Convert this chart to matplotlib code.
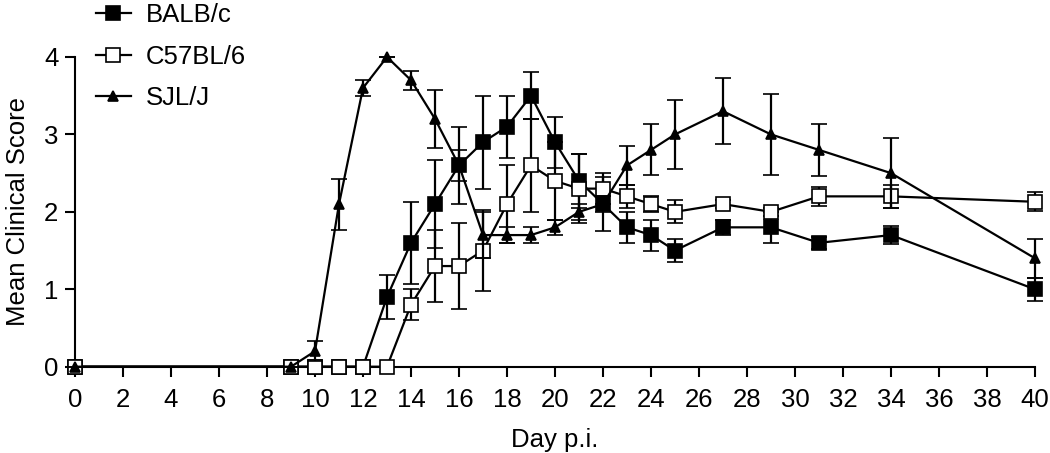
import matplotlib
matplotlib.use("Agg")
import matplotlib.pyplot as plt
from matplotlib.lines import Line2D

plt.rcParams["font.family"] = ["Liberation Sans", "DejaVu Sans"]

days = [0, 9, 10, 11, 12, 13, 14, 15, 16, 17, 18, 19, 20, 21, 22, 23, 24, 25, 27, 29, 31, 34, 40]

balb = [0, 0, 0, 0, 0, 0.9, 1.6, 2.1, 2.6, 2.9, 3.1, 3.5, 2.9, 2.4, 2.1, 1.8, 1.7, 1.5, 1.8, 1.8, 1.6, 1.7, 1.0]
balb_err = [0, 0, 0, 0, 0, 0.28, 0.53, 0.57, 0.5, 0.6, 0.4, 0.3, 0.33, 0.35, 0.35, 0.2, 0.2, 0.15, 0.1, 0.2, 0.08, 0.12, 0.15]

c57 = [0, 0, 0, 0, 0, 0, 0.8, 1.3, 1.3, 1.5, 2.1, 2.6, 2.4, 2.3, 2.3, 2.2, 2.1, 2.0, 2.1, 2.0, 2.2, 2.2, 2.13]
c57_err = [0, 0, 0, 0, 0, 0, 0.2, 0.47, 0.55, 0.52, 0.5, 0.6, 0.5, 0.45, 0.2, 0.15, 0.1, 0.15, 0.05, 0.05, 0.12, 0.15, 0.12]

sjl = [0, 0, 0.2, 2.1, 3.6, 4.0, 3.7, 3.2, 2.6, 1.7, 1.7, 1.7, 1.8, 2.0, 2.1, 2.6, 2.8, 3.0, 3.3, 3.0, 2.8, 2.5, 1.4]
sjl_err = [0, 0, 0.13, 0.33, 0.1, 0, 0.12, 0.37, 0.2, 0.3, 0.1, 0.1, 0.1, 0.1, 0.1, 0.25, 0.33, 0.45, 0.43, 0.52, 0.34, 0.45, 0.25]

labels = ["BALB/c", "C57BL/6", "SJL/J"]
x_ticks = list(range(0, 41, 2))
y_ticks = [0, 1, 2, 3, 4]

fig = plt.figure(figsize=(10.5, 4.53), dpi=100)
ax = fig.add_axes([75 / 1050, 86.3 / 453, 960 / 1050, 309.7 / 453])

estilo = dict(color="black", linewidth=1.6, elinewidth=1.6, capsize=6, capthick=1.6,
              markeredgecolor="black", markeredgewidth=1.2, clip_on=False)

series = [
    (balb, balb_err, "s", 10, "black"),
    (c57, c57_err, "s", 10, "white"),
    (sjl, sjl_err, "^", 7.5, "black"),
]

handles = []
for i, (vals, errs, marcador, tam, face) in enumerate(series):
    ax.errorbar(days, vals, yerr=errs, marker=marcador, markersize=tam,
                markerfacecolor=face, zorder=3 + i, **estilo)
    handles.append(Line2D([], [], color="black", linewidth=1.6, marker=marcador, markersize=tam,
                          markerfacecolor=face, markeredgecolor="black", markeredgewidth=1.2))

ax.set_xlim(0, 40)
ax.set_ylim(0, 4)
ax.set_xticks(x_ticks)
ax.set_yticks(y_ticks)

for lado in ["top", "right"]:
    ax.spines[lado].set_visible(False)
for lado in ["left", "bottom"]:
    ax.spines[lado].set_linewidth(1.5)

ax.tick_params(axis="both", direction="out", length=7, width=1.5, labelsize=18.5)
ax.tick_params(axis="x", pad=8)
ax.tick_params(axis="y", pad=5)

ax.set_xlabel("Day p.i.", fontsize=18.5, labelpad=12)
ax.set_ylabel("Mean Clinical Score", fontsize=18.5, labelpad=10)

ax.legend(handles, labels, loc="upper left", bbox_to_anchor=(96 / 1050, 0.993),
          bbox_transform=fig.transFigure, frameon=False, fontsize=18.5, borderpad=0,
          borderaxespad=0, handlelength=1.35, handletextpad=0.6, labelspacing=0.68)

fig.savefig("out.png", dpi=100)
